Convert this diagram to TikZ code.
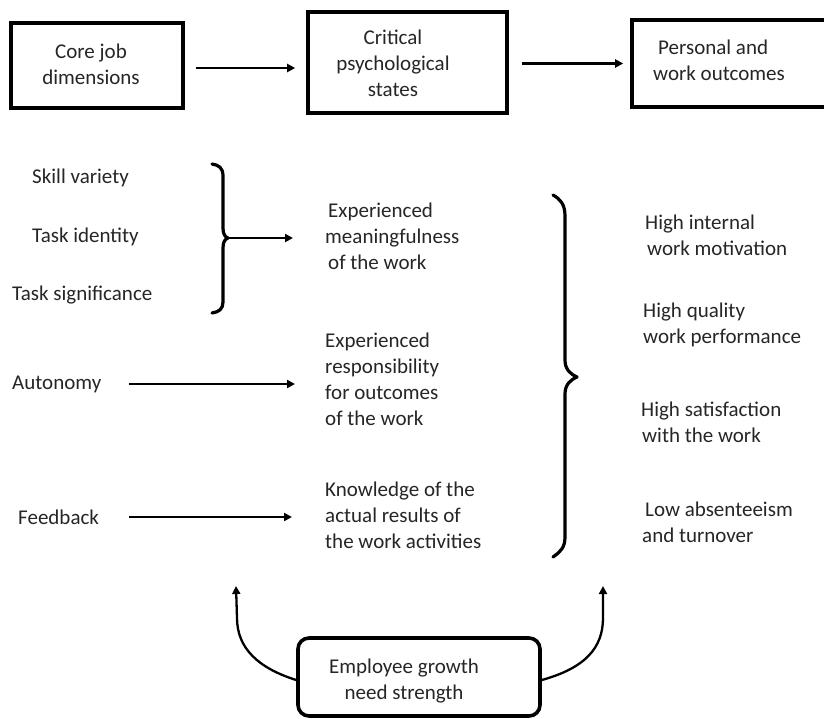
\documentclass[tikz,border=0pt]{standalone}
\usepackage{fontspec}
\setmainfont{Carlito}
\usetikzlibrary{arrows.meta,calc}
\begin{document}
\begin{tikzpicture}[x=1pt,y=-1pt,
  boxshape/.style={draw=black,line width=3.6pt,rectangle,inner sep=0pt},
  txt/.style={inner sep=0pt,font=\fontsize{21}{26}\selectfont,text=black!85,align=left,anchor=west},
  txtc/.style={inner sep=0pt,font=\fontsize{21}{26}\selectfont,text=black!85,align=center},
  arr/.style={draw=black,line width=2.8pt,-{Triangle[length=8pt,width=8pt]}},
  bracepath/.style={draw=black,line width=3.2pt,line cap=round,line join=round}]
\useasboundingbox (0,0) rectangle (824,718);
\fill[white] (0,0) rectangle (824,718);

% top boxes
\node[boxshape,minimum width=172pt,minimum height=85pt] (b1) at (97,65.5) {};
\node[boxshape,minimum width=199pt,minimum height=101pt] (b2) at (407.5,62.5) {};
\node[boxshape,minimum width=198pt,minimum height=87pt] (b3) at (731,63.5) {};
\node[txtc] (t1) at (91,64) {Core job\\dimensions};
\node[txtc] (t2) at (393,63) {Critical\\psychological\\states};
\node[txt] (t3) at (653,60) {\hspace*{5pt}Personal and\\work outcomes};
\draw[arr,shorten <=11pt,shorten >=11pt] ([yshift=-2.5pt]b1.east) -- ([yshift=-2.5pt]b1.east -| b2.west);
\draw[arr,shorten <=13pt,shorten >=7pt] (b2.east |- b3.west) -- (b3.west);

% left column
\node[txt] (sv) at (32,178) {Skill variety};
\node[txt] (ti) at (32,237) {Task identity};
\node[txt] (ts) at (12,295) {Task significance};
\node[txt] (au) at (12,384) {Autonomy};
\node[txt] (fb) at (18,517) {Feedback};

% middle column
\node[txt] (em) at (325,236) {\hspace*{3pt}Experienced\\meaningfulness\\\hspace*{3pt}of the work};
\node[txt] (er) at (325,379) {Experienced\\responsibility\\for outcomes\\of the work};
\node[txt] (kn) at (325,515) {Knowledge of the\\actual results of\\the work activities};

% right column
\node[txt] (hi) at (645,235) {High internal\\\hspace*{2pt}work motivation};
\node[txt] (hq) at (643,325) {High quality\\work performance};
\node[txt] (hs) at (641,422) {High satisfaction\\\hspace*{1pt}with the work};
\node[txt] (la) at (642,522) {\hspace*{3pt}Low absenteeism\\and turnover};

% brace 1
\coordinate (bt1) at (228,238);
\draw[bracepath] (212,164) .. controls (219,165) and (223,168) .. (223,176)
  -- (223,228) .. controls (223,234) and (225,237) .. (bt1)
  .. controls (225,239) and (223,242) .. (223,248)
  -- (223,302) .. controls (223,309) and (219,312) .. (212,313);
\draw[arr,shorten >=32pt] (bt1) -- (bt1 -| em.west);

% single arrows
\draw[arr,shorten <=28pt,shorten >=30pt] (au.east) -- (au.east -| er.west);
\draw[arr,shorten <=30pt,shorten >=33pt] (fb.east) -- (fb.east -| kn.west);

% brace 2
\coordinate (bt2) at (577,377);
\draw[bracepath] (553,195) .. controls (560,199) and (565,204) .. (565,216)
  -- (565,360) .. controls (565,369) and (570,374) .. (bt2)
  .. controls (570,380) and (565,385) .. (565,394)
  -- (565,537) .. controls (565,548) and (560,552) .. (553,557);

% bottom box
\node[boxshape,rounded corners=11pt,minimum width=242pt,minimum height=78pt] (eg) at (419,677) {};
\node[txtc] (egt) at (404,681) {Employee growth\\need strength};
\coordinate (up1) at (236,586);
\coordinate (up2) at (603,586);
\draw[arr,line width=2.3pt] ([yshift=-3pt]eg.west) .. controls (258,668) and (237,648) .. (237,618) -- (up1);
\draw[arr,line width=2.3pt] ([yshift=-3pt]eg.east) .. controls (585,668) and (603,648) .. (603,618) -- (up2);
\end{tikzpicture}
\end{document}
